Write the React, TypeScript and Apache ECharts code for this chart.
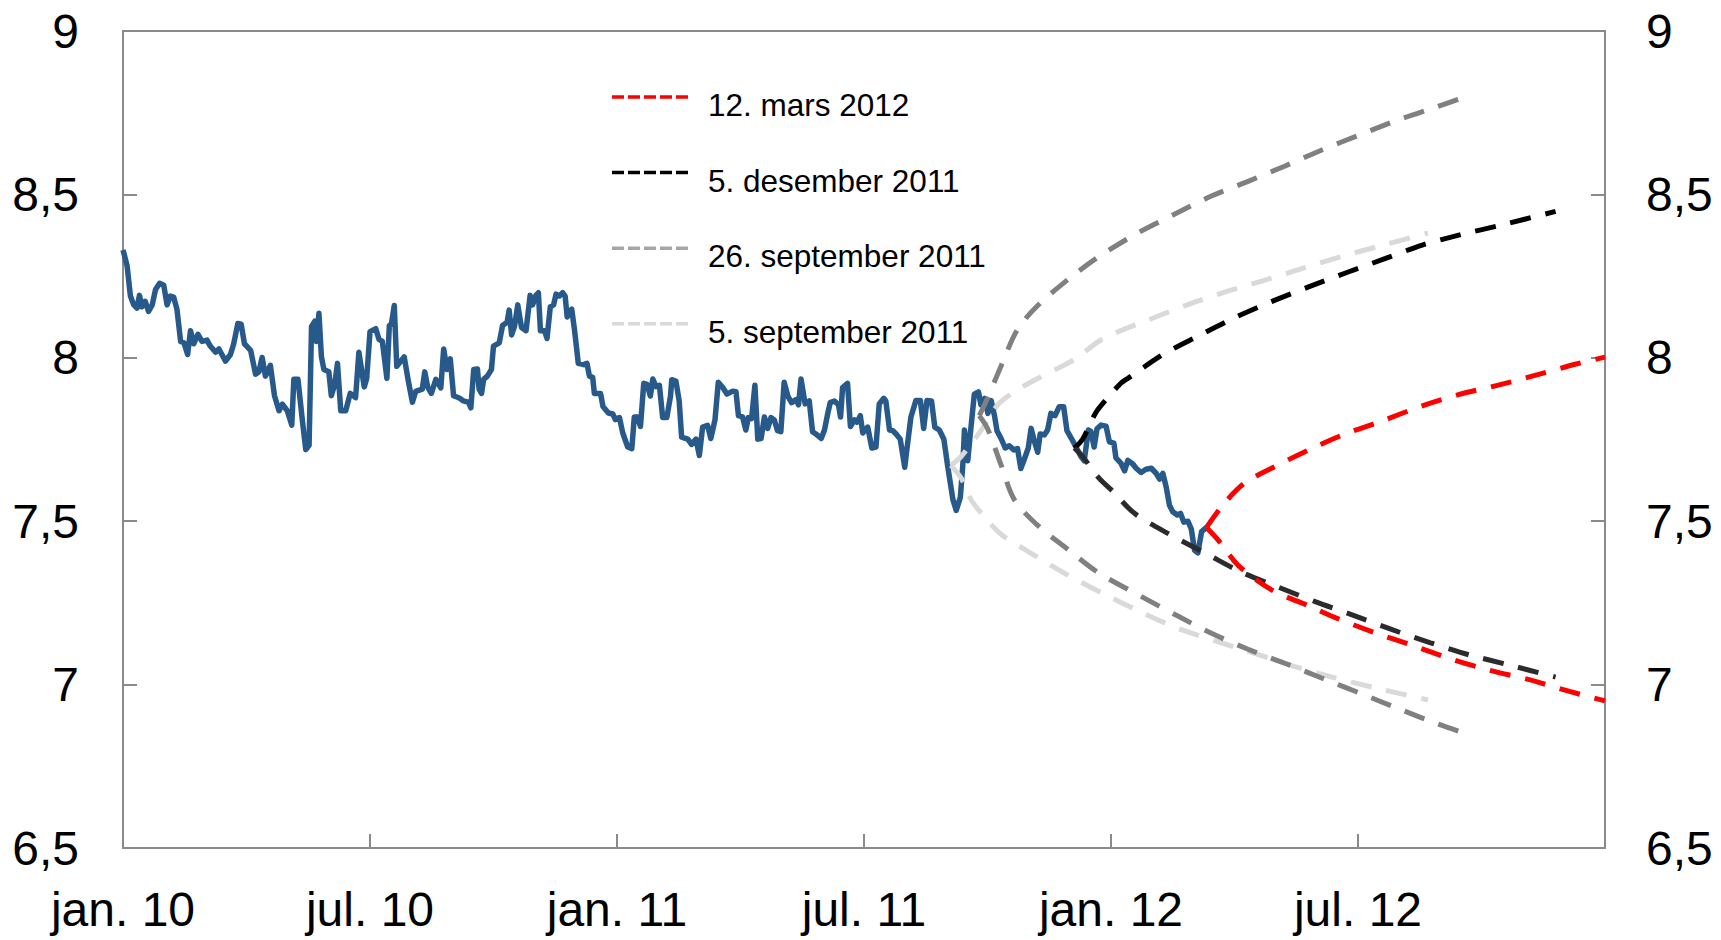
import React, { useEffect, useRef } from "react";
import * as echarts from "echarts";

// x = months since jan. 2010 (0 = jan. 10, 36 = jan. 13)
const xTickLabels = ["jan. 10", "jul. 10", "jan. 11", "jul. 11", "jan. 12", "jul. 12"];

const legendLabels = ["12. mars 2012", "5. desember 2011", "26. september 2011", "5. september 2011"];
const legendColors = ["#ff0000", "#000000", "#a6a6a6", "#d9d9d9"];

// Observed series (blue)
const observed: [number, number][] = [
  [0.0, 8.33], [0.02, 8.321], [0.1, 8.281], [0.18, 8.189], [0.26, 8.162], [0.34, 8.152], [0.4, 8.191], [0.46, 8.156],
  [0.54, 8.173], [0.62, 8.142], [0.71, 8.162], [0.79, 8.209], [0.89, 8.228], [0.99, 8.222], [1.07, 8.162], [1.15, 8.189],
  [1.23, 8.186], [1.31, 8.149], [1.4, 8.05], [1.48, 8.046], [1.57, 8.01], [1.64, 8.083], [1.72, 8.043], [1.82, 8.072],
  [1.92, 8.05], [2.04, 8.054], [2.12, 8.036], [2.25, 8.017], [2.33, 8.027], [2.49, 7.99], [2.61, 8.01], [2.69, 8.043],
  [2.79, 8.105], [2.87, 8.103], [2.95, 8.043], [3.1, 8.023], [3.22, 7.95], [3.3, 7.957], [3.38, 8.001], [3.46, 7.944],
  [3.58, 7.977], [3.68, 7.884], [3.79, 7.838], [3.87, 7.858], [3.99, 7.838], [4.1, 7.794], [4.15, 7.934], [4.25, 7.934],
  [4.36, 7.805], [4.44, 7.719], [4.52, 7.732], [4.58, 8.096], [4.66, 8.112], [4.7, 8.05], [4.76, 8.136], [4.82, 8.003],
  [4.88, 7.964], [5.0, 7.957], [5.06, 7.884], [5.14, 7.917], [5.21, 7.983], [5.29, 7.838], [5.41, 7.838], [5.52, 7.891],
  [5.65, 7.878], [5.73, 8.017], [5.86, 7.911], [5.92, 7.937], [6.0, 8.08], [6.14, 8.089], [6.22, 8.056], [6.3, 8.05],
  [6.41, 7.937], [6.47, 8.099], [6.52, 8.103], [6.59, 8.16], [6.65, 7.974], [6.83, 8.003], [6.93, 7.93], [7.03, 7.864],
  [7.11, 7.897], [7.27, 7.904], [7.33, 7.957], [7.4, 7.911], [7.49, 7.891], [7.6, 7.934], [7.72, 7.908], [7.79, 8.027],
  [7.87, 7.964], [7.95, 7.997], [8.03, 7.884], [8.17, 7.877], [8.27, 7.868], [8.39, 7.864], [8.45, 7.847], [8.52, 7.964],
  [8.61, 7.966], [8.65, 7.904], [8.71, 7.891], [8.76, 7.934], [8.85, 7.944], [8.95, 7.964], [9.0, 8.036], [9.14, 8.046],
  [9.22, 8.099], [9.33, 8.109], [9.38, 8.146], [9.44, 8.07], [9.51, 8.096], [9.59, 8.162], [9.68, 8.093], [9.79, 8.083],
  [9.89, 8.191], [9.95, 8.162], [10.03, 8.191], [10.09, 8.199], [10.14, 8.083], [10.24, 8.083], [10.3, 8.059], [10.38, 8.156],
  [10.46, 8.162], [10.52, 8.195], [10.6, 8.189], [10.68, 8.199], [10.74, 8.189], [10.79, 8.125], [10.9, 8.149], [10.97, 8.083],
  [11.06, 7.983], [11.19, 7.979], [11.27, 7.983], [11.33, 7.944], [11.41, 7.94], [11.45, 7.891], [11.6, 7.891], [11.66, 7.851],
  [11.79, 7.831], [11.9, 7.828], [11.96, 7.811], [12.06, 7.817], [12.14, 7.77], [12.26, 7.727], [12.36, 7.722], [12.42, 7.819],
  [12.5, 7.819], [12.57, 7.79], [12.65, 7.922], [12.73, 7.919], [12.81, 7.883], [12.87, 7.935], [12.95, 7.912], [13.03, 7.916],
  [13.11, 7.817], [13.21, 7.817], [13.3, 7.883], [13.33, 7.933], [13.43, 7.929], [13.51, 7.869], [13.57, 7.757], [13.72, 7.751],
  [13.81, 7.735], [13.92, 7.751], [14.0, 7.701], [14.08, 7.788], [14.2, 7.793], [14.28, 7.753], [14.38, 7.81], [14.46, 7.925],
  [14.57, 7.909], [14.67, 7.889], [14.81, 7.898], [14.89, 7.896], [14.95, 7.823], [15.05, 7.819], [15.13, 7.779], [15.19, 7.817],
  [15.27, 7.814], [15.35, 7.916], [15.42, 7.751], [15.5, 7.753], [15.58, 7.819], [15.66, 7.784], [15.74, 7.817], [15.82, 7.81],
  [15.9, 7.777], [15.98, 7.774], [16.06, 7.925], [16.15, 7.883], [16.24, 7.863], [16.35, 7.872], [16.41, 7.856], [16.47, 7.935],
  [16.57, 7.859], [16.67, 7.868], [16.75, 7.774], [16.83, 7.767], [16.96, 7.753], [17.04, 7.779], [17.12, 7.83], [17.18, 7.863],
  [17.28, 7.868], [17.38, 7.856], [17.43, 7.819], [17.48, 7.909], [17.6, 7.922], [17.67, 7.79], [17.77, 7.81], [17.83, 7.803],
  [17.91, 7.823], [17.97, 7.77], [18.09, 7.788], [18.19, 7.724], [18.29, 7.727], [18.37, 7.859], [18.48, 7.876], [18.53, 7.868],
  [18.62, 7.779], [18.7, 7.777], [18.78, 7.767], [18.88, 7.751], [18.99, 7.665], [19.04, 7.718], [19.14, 7.819], [19.26, 7.869],
  [19.37, 7.869], [19.45, 7.784], [19.53, 7.869], [19.64, 7.868], [19.72, 7.788], [19.83, 7.779], [19.94, 7.751], [20.03, 7.671],
  [20.16, 7.566], [20.24, 7.533], [20.34, 7.573], [20.4, 7.671], [20.44, 7.779], [20.52, 7.685], [20.58, 7.764], [20.68, 7.889],
  [20.78, 7.896], [20.84, 7.856], [20.93, 7.876], [21.01, 7.83], [21.09, 7.869], [21.17, 7.823], [21.23, 7.777], [21.33, 7.753],
  [21.43, 7.724], [21.53, 7.731], [21.64, 7.718], [21.73, 7.722], [21.81, 7.661], [21.89, 7.688], [21.99, 7.724], [22.06, 7.784],
  [22.14, 7.744], [22.22, 7.711], [22.28, 7.767], [22.38, 7.764], [22.46, 7.779], [22.54, 7.83], [22.64, 7.823], [22.74, 7.85],
  [22.85, 7.85], [22.93, 7.777], [23.04, 7.753], [23.15, 7.727], [23.27, 7.698], [23.35, 7.685], [23.45, 7.779], [23.51, 7.775],
  [23.59, 7.727], [23.66, 7.783], [23.76, 7.794], [23.88, 7.791], [23.96, 7.743], [24.07, 7.739], [24.12, 7.694], [24.24, 7.678],
  [24.33, 7.654], [24.41, 7.686], [24.53, 7.675], [24.61, 7.662], [24.73, 7.649], [24.85, 7.659], [24.98, 7.662], [25.1, 7.646],
  [25.18, 7.629], [25.26, 7.646], [25.34, 7.605], [25.42, 7.549], [25.5, 7.529], [25.61, 7.519], [25.69, 7.524], [25.77, 7.497],
  [25.87, 7.5], [25.95, 7.476], [26.03, 7.411], [26.11, 7.403], [26.2, 7.468], [26.32, 7.481],
];

// Forecast paths: 5. september 2011 (light grey)
const sep5Upper: [number, number][] = [
  [20.11, 7.671], [20.36, 7.698], [20.84, 7.777], [21.25, 7.856], [21.65, 7.896], [22.3, 7.942], [23.11, 7.995],
  [23.8, 8.058], [24.89, 8.115], [25.87, 8.163], [26.76, 8.201], [27.7, 8.236], [28.63, 8.273], [29.57, 8.309],
  [30.5, 8.341], [31.7, 8.382],
];
const sep5Lower: [number, number][] = [
  [20.11, 7.671], [20.36, 7.632], [20.6, 7.566], [20.84, 7.526], [21.33, 7.46], [21.98, 7.408], [22.95, 7.335],
  [23.8, 7.279], [24.81, 7.217], [25.71, 7.168], [26.68, 7.128], [27.58, 7.092], [28.47, 7.055], [29.37, 7.023],
  [30.42, 6.99], [31.7, 6.953],
];
// 26. september 2011 (grey)
const sep26Upper: [number, number][] = [
  [20.8, 7.823], [21.0, 7.876], [21.33, 7.975], [21.73, 8.087], [22.22, 8.16], [22.95, 8.239], [23.65, 8.305],
  [24.65, 8.382], [25.54, 8.439], [26.44, 8.495], [27.33, 8.54], [28.23, 8.587], [29.12, 8.636], [30.02, 8.681],
  [30.95, 8.727], [31.89, 8.767], [32.67, 8.801],
];
const sep26Lower: [number, number][] = [
  [20.8, 7.823], [21.0, 7.784], [21.33, 7.672], [21.65, 7.566], [22.22, 7.487], [22.95, 7.414], [23.7, 7.342],
  [24.73, 7.27], [25.59, 7.212], [26.44, 7.157], [27.33, 7.108], [28.27, 7.063], [29.16, 7.018], [30.1, 6.971],
  [30.99, 6.926], [31.89, 6.882], [32.67, 6.848],
];
// 5. desember 2011 (black)
const dec5Upper: [number, number][] = [
  [23.11, 7.724], [23.31, 7.751], [23.63, 7.832], [23.88, 7.872], [24.24, 7.922], [24.41, 7.937], [25.26, 8.01],
  [26.11, 8.066], [27.01, 8.123], [27.9, 8.172], [28.8, 8.217], [29.73, 8.261], [30.67, 8.304], [31.56, 8.345],
  [32.5, 8.377], [33.47, 8.406], [34.8, 8.448],
];
const dec5Lower: [number, number][] = [
  [23.11, 7.724], [23.31, 7.698], [23.72, 7.63], [24.04, 7.592], [24.57, 7.524], [25.42, 7.46], [26.28, 7.403],
  [27.13, 7.346], [28.07, 7.298], [28.96, 7.254], [29.89, 7.212], [30.83, 7.168], [31.76, 7.128], [32.7, 7.091],
  [33.67, 7.06], [34.8, 7.023],
];
// 12. mars 2012 (red)
const mar12Upper: [number, number][] = [
  [26.32, 7.481], [26.76, 7.556], [27.25, 7.617], [27.9, 7.662], [28.8, 7.718], [29.69, 7.767], [30.59, 7.807],
  [31.56, 7.853], [32.46, 7.888], [33.43, 7.917], [34.41, 7.95], [35.3, 7.981], [36.0, 8.002],
];
const mar12Lower: [number, number][] = [
  [26.32, 7.481], [26.6, 7.443], [27.09, 7.365], [27.9, 7.29], [28.8, 7.241], [29.45, 7.205], [30.38, 7.16],
  [31.32, 7.12], [32.25, 7.079], [33.19, 7.044], [34.16, 7.015], [35.14, 6.979], [36.0, 6.95],
];

const FONT = "'Liberation Sans', Arial, sans-serif";
const AXIS_COLOR = "#8a8a8a";

function dashed(name: string, data: [number, number][], color: string) {
  return {
    name,
    type: "line",
    data,
    showSymbol: false,
    smooth: 0.3,
    clip: true,
    lineStyle: { color, width: 5, type: [21, 15], cap: "butt" },
  };
}

export default function App() {
  const ref = useRef<HTMLDivElement>(null);
  useEffect(() => {
    document.body.style.margin = "0";
    const chart = echarts.init(ref.current!, null, { renderer: "svg" });
    const yFmt = (v: number) => String(v).replace(".", ",");
    const yAxisBase = {
      type: "value",
      min: 6.5,
      max: 9,
      interval: 0.5,
      axisLine: { show: true, lineStyle: { color: AXIS_COLOR, width: 2 } },
      axisTick: { show: true, inside: true, length: 14, lineStyle: { color: AXIS_COLOR, width: 2 } },
      splitLine: { show: false },
      axisLabel: { color: "#000", fontSize: 48, fontFamily: FONT, formatter: yFmt },
    };
    const legendGraphics: any[] = [];
    legendLabels.forEach((label, i) => {
      const y = 97 + i * 75.6;
      legendGraphics.push({
        type: "line",
        shape: { x1: 612, y1: y, x2: 689, y2: y },
        style: { stroke: legendColors[i], lineWidth: 3.5, lineDash: [12, 4] },
        z: 100,
      });
      legendGraphics.push({
        type: "text",
        x: 708,
        y: y + 8,
        style: { text: label, fill: "#000", fontSize: 31.5, fontFamily: FONT, verticalAlign: "middle", align: "left" },
        z: 100,
      });
    });
    chart.setOption({
      animation: false,
      backgroundColor: "#fff",
      grid: {
        left: 123,
        right: 116,
        top: 31,
        bottom: 92,
        show: true,
        borderColor: AXIS_COLOR,
        borderWidth: 2,
        backgroundColor: "transparent",
      },
      xAxis: {
        type: "value",
        min: 0,
        max: 36,
        interval: 6,
        axisLine: { show: true, lineStyle: { color: AXIS_COLOR, width: 2 } },
        axisTick: { show: true, inside: true, length: 14, lineStyle: { color: AXIS_COLOR, width: 2 } },
        splitLine: { show: false },
        axisLabel: {
          color: "#000",
          fontSize: 48,
          fontFamily: FONT,
          margin: 37,
          formatter: (v: number) => xTickLabels[Math.round(v / 6)] ?? "",
        },
      },
      yAxis: [
        { ...yAxisBase, position: "left", axisLabel: { ...yAxisBase.axisLabel, margin: 44 } },
        { ...yAxisBase, position: "right", axisLabel: { ...yAxisBase.axisLabel, margin: 41 } },
      ],
      series: [
        {
          name: "observed",
          type: "line",
          data: observed,
          showSymbol: false,
          lineStyle: { color: "#275a8a", width: 5.5, join: "round" },
        },
        dashed(legendLabels[3], sep5Upper, "#d9d9d9"),
        dashed(legendLabels[3] + " ", sep5Lower, "#d9d9d9"),
        dashed(legendLabels[2], sep26Upper, "#808080"),
        dashed(legendLabels[2] + " ", sep26Lower, "#808080"),
        dashed(legendLabels[1], dec5Upper, "#000000"),
        dashed(legendLabels[1] + " ", dec5Lower, "#2b2b2b"),
        dashed(legendLabels[0], mar12Upper, "#ff0000"),
        dashed(legendLabels[0] + " ", mar12Lower, "#ff0000"),
      ],
      graphic: legendGraphics,
    });
    return () => chart.dispose();
  }, []);
  return <div ref={ref} style={{ position: "absolute", left: 0, top: 0, width: 1721, height: 940 }} />;
}
